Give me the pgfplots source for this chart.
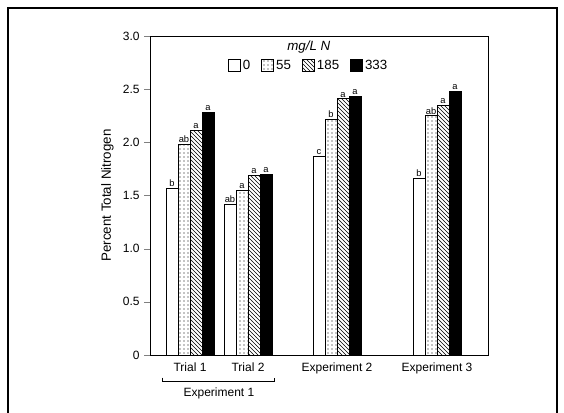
\documentclass[border=0pt]{standalone}
\usepackage{pgfplots}
\pgfplotsset{compat=1.18}
\usepackage{fontspec}
\setmainfont{Liberation Sans}
\usetikzlibrary{patterns}
\begin{document}
\begin{tikzpicture}
\path[use as bounding box] (0,0) rectangle (423pt,309.75pt);
\draw[line width=1.5pt] (6pt,0)--(6pt,303.75pt)--(417.75pt,303.75pt)--(417.75pt,0);
\begin{axis}[at={(112.5pt,43.5pt)},anchor=south west,scale only axis,
 width=253.5pt,height=239.25pt,
 xmin=1.5,xmax=4.88,ymin=0,ymax=3,
 ybar=0pt, bar width=0.12, bar shift=0pt,
 ytick={0,0.5,1,1.5,2,2.5,3},
 yticklabels={0,0.5,1.0,1.5,2.0,2.5,3.0},
 tick align=outside, ytick pos=left,
 xtick={1.9,2.48,3.37,4.37},
 xticklabels={Trial 1,Trial 2,Experiment 2,Experiment 3},
 x tick style={draw=none},
 xticklabel style={yshift=2pt},
 ticklabel style={font=\small},
 /pgf/number format/assume math mode=true,
 ylabel={Percent Total Nitrogen}, ylabel style={font=\normalsize},
 nodes near coords, point meta=explicit symbolic,
 every node near coord/.style={font=\scriptsize, inner sep=1pt, anchor=south},
 legend columns=4,
 legend style={draw=none, at={(0.47,0.905)}, anchor=center, font=\normalsize, /tikz/every even column/.append style={column sep=6pt}},
 legend image code/.code={\draw[#1] (0pt,-4pt) rectangle (9pt,5pt);},
 clip=false,
]
\addplot[draw=black, fill=white] coordinates {(1.72,1.57)[b] (2.30,1.42)[ab] (3.19,1.87)[c] (4.19,1.66)[b]};
\addplot[draw=black, pattern=dots] coordinates {(1.84,1.98)[ab] (2.42,1.55)[a] (3.31,2.22)[b] (4.31,2.25)[ab]};
\addplot[draw=black, pattern=north west lines] coordinates {(1.96,2.11)[a] (2.54,1.69)[a] (3.43,2.41)[a] (4.43,2.35)[a]};
\addplot[draw=black, fill=black] coordinates {(2.08,2.28)[a] (2.66,1.70)[a] (3.55,2.43)[a] (4.55,2.48)[a]};
\legend{0,55,185,333}
\node[font=\normalsize\itshape] at (rel axis cs:0.47,0.965) {mg/L N};
\draw ([yshift=-17pt]axis cs:1.62,0) -- ([yshift=-20pt]axis cs:1.62,0) -- ([yshift=-20pt]axis cs:2.74,0) -- ([yshift=-17pt]axis cs:2.74,0);
\node[font=\small] at ([yshift=-29pt]axis cs:2.19,0) {Experiment 1};
\end{axis}
\end{tikzpicture}
\end{document}
